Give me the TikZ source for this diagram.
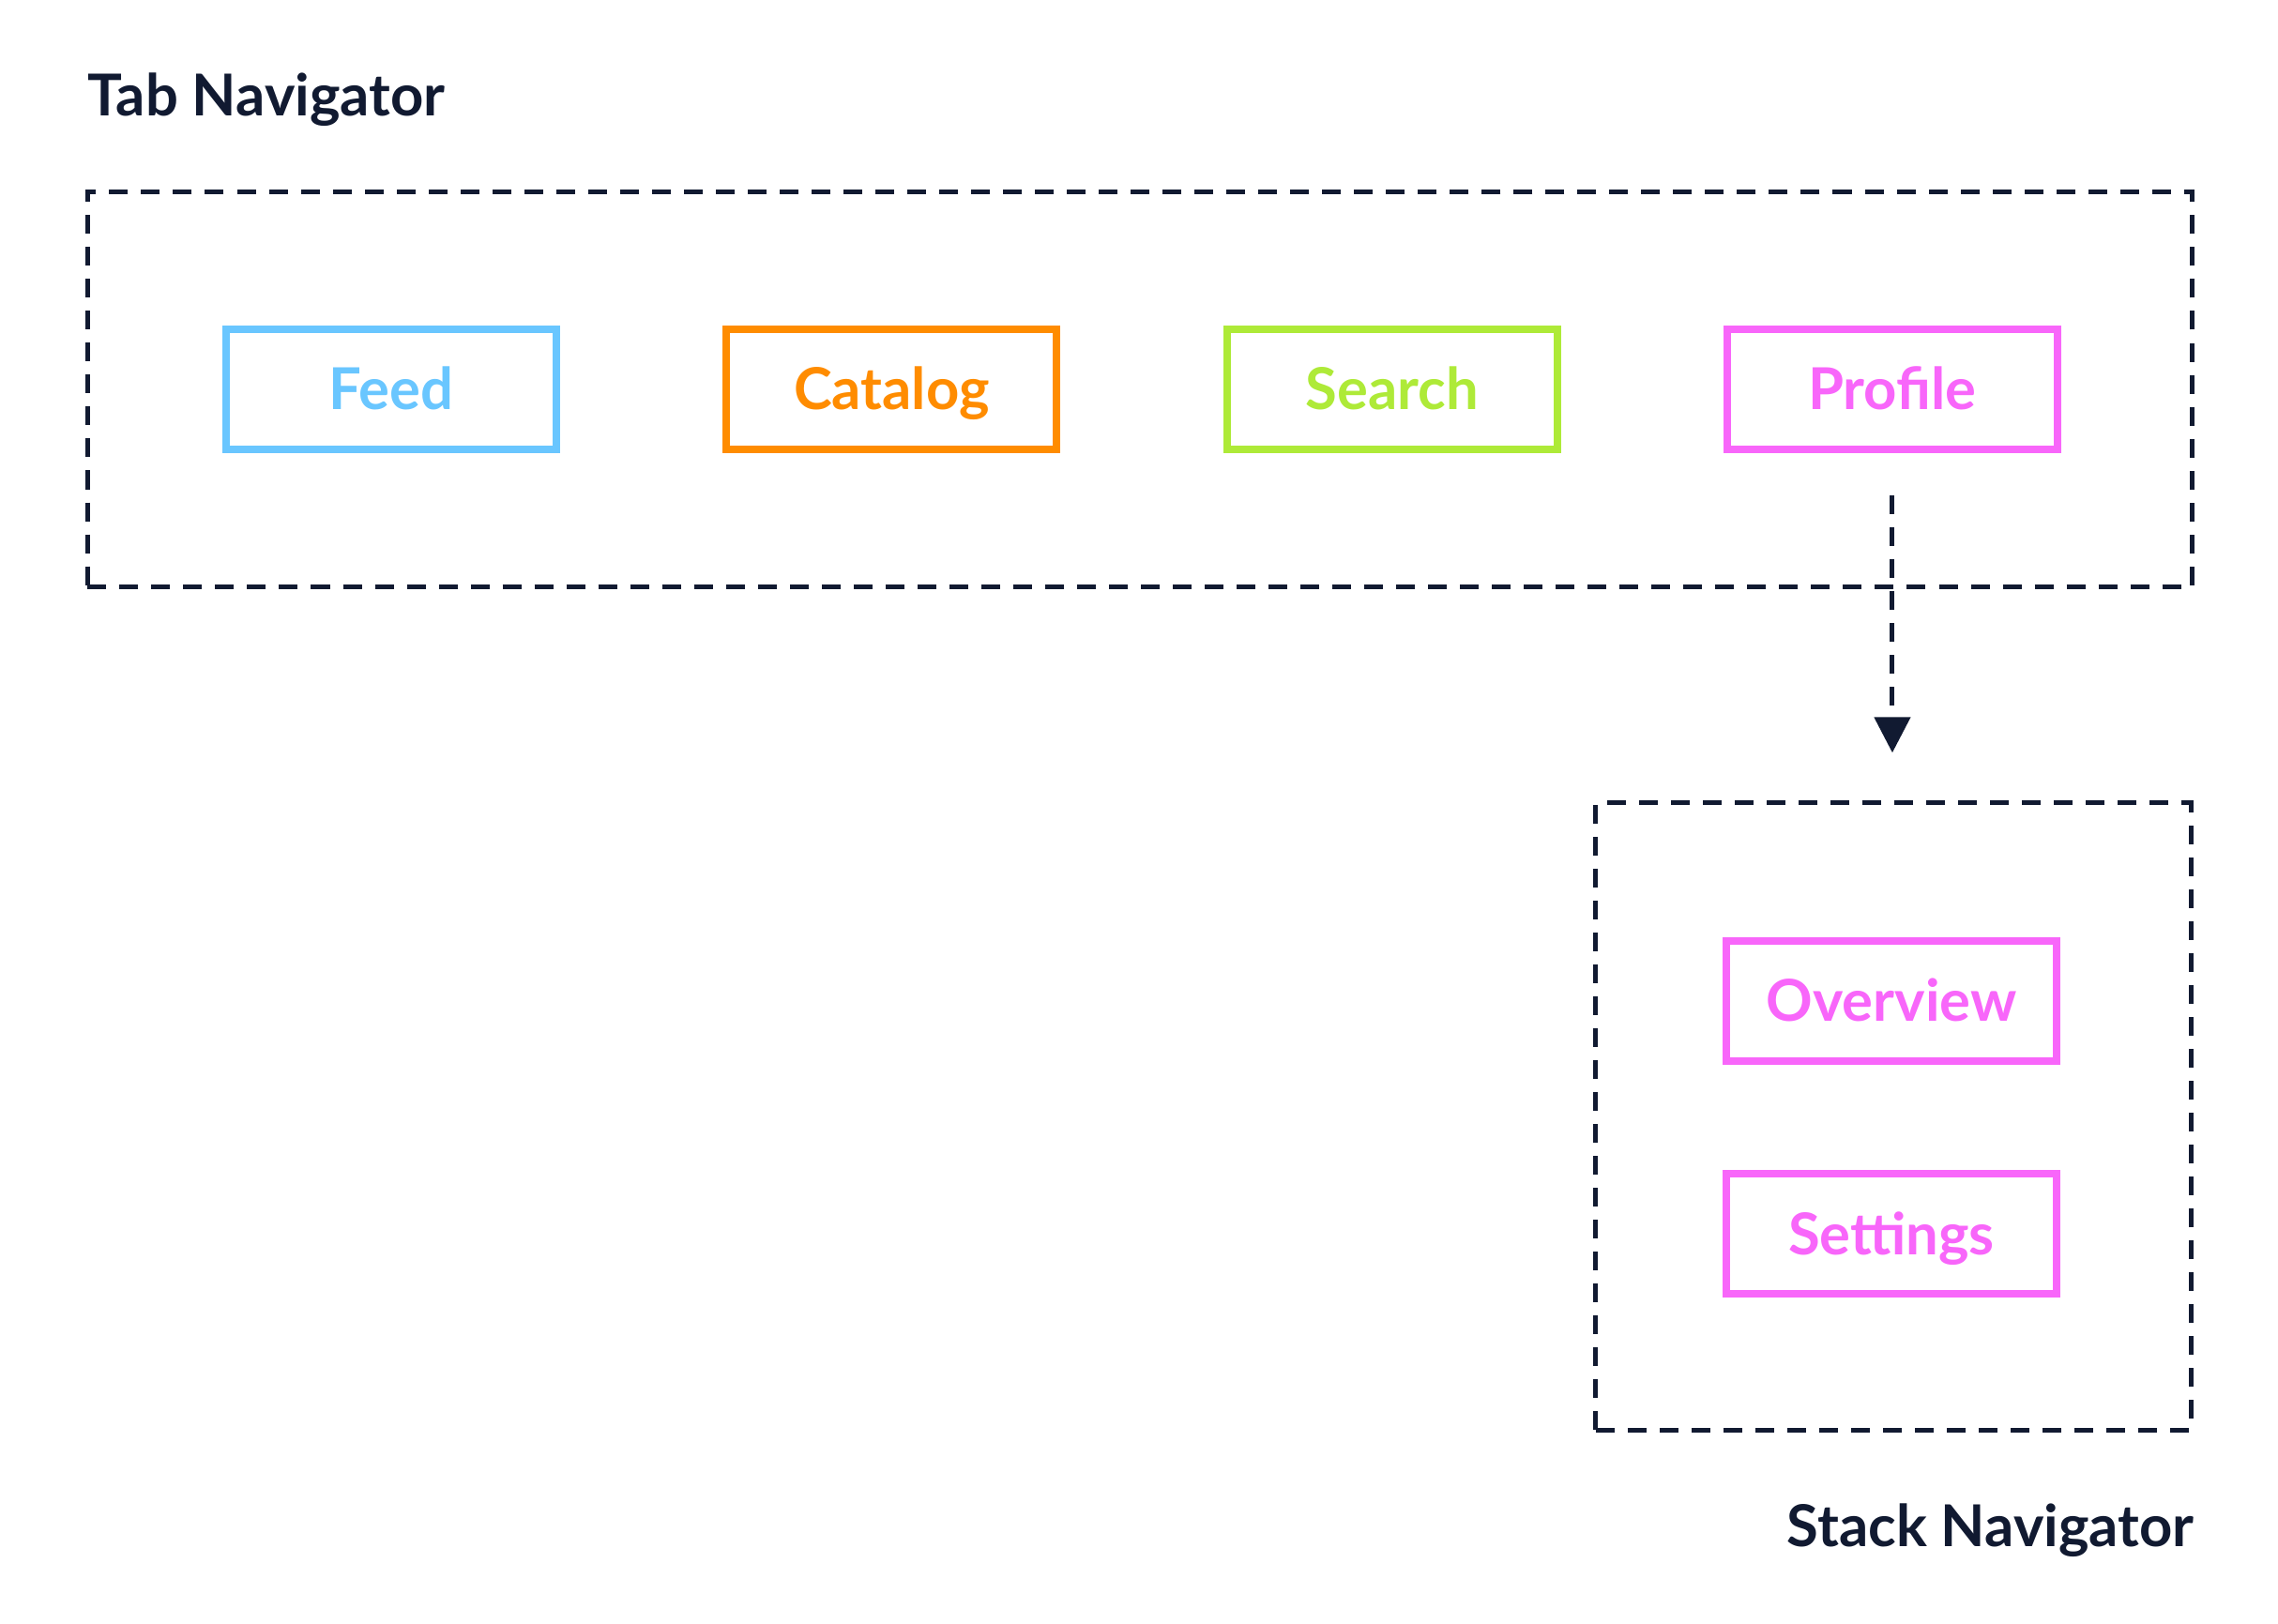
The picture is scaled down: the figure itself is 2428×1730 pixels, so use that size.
\documentclass[tikz,border=0pt]{standalone}
\usepackage{fontspec}
\setmainfont{Lato}
\usetikzlibrary{positioning,arrows.meta}
\definecolor{navy}{HTML}{111A31}
\definecolor{feedblue}{HTML}{69C6FF}
\definecolor{catorange}{HTML}{FF8C00}
\definecolor{searchgreen}{HTML}{AEEA38}
\definecolor{profpink}{HTML}{F866FA}
\tikzset{
  screen/.style={ % image of a single screen
    draw=#1, text=#1, line width=0.08cm, rectangle,
    minimum width=3.52cm, minimum height=1.28cm,
    inner sep=0pt, text height=12.5pt, text depth=0pt,
    font=\bfseries\fontsize{17.5}{21}\selectfont
  },
  navbox/.style={ % dashed frame of a navigator
    draw=navy, line width=0.05cm, rectangle, inner sep=0pt,
    dash pattern=on 0.2cm off 0.14cm
  },
  navlabel/.style={
    text=navy, inner sep=0pt, font=\bfseries\fontsize{17.5}{21}\selectfont
  },
  flow/.style={
    draw=navy, line width=0.05cm, dash pattern=on 0.2cm off 0.14cm,
    -{Triangle[width=0.38cm,length=0.38cm]}
  }
}
\begin{document}
\begin{tikzpicture}[x=0.01cm, y=-0.01cm]
  \useasboundingbox (0,0) rectangle (2428,1730);

  \node[navbox, minimum width=22.42cm, minimum height=4.21cm] (tab) at (1215,415) {};
  \node[navbox, minimum width=6.34cm, minimum height=6.68cm] (stack) at (2018,1190) {};

  \node[screen=feedblue] (feed) at (417,415) {Feed};
  \node[screen=catorange, right=1.73cm of feed] (catalog) {Catalog};
  \node[screen=searchgreen, right=1.73cm of catalog] (search) {Search};
  \node[screen=profpink, right=1.73cm of search] (profile) {Profile};

  \node[screen=profpink] (overview) at (2016,1067) {Overview};
  \node[screen=profpink, below=1.12cm of overview] (settings) {Settings};

  \node[navlabel, anchor=base west] (tab_label) at (93,123) {Tab Navigator};
  \node[navlabel, anchor=base east] (stack_label) at (2339,1648) {Stack Navigator};

  \draw[flow, shorten <=0.45cm, shorten >=0.51cm] (profile.south) -- (profile.south |- stack.north);
\end{tikzpicture}
\end{document}
